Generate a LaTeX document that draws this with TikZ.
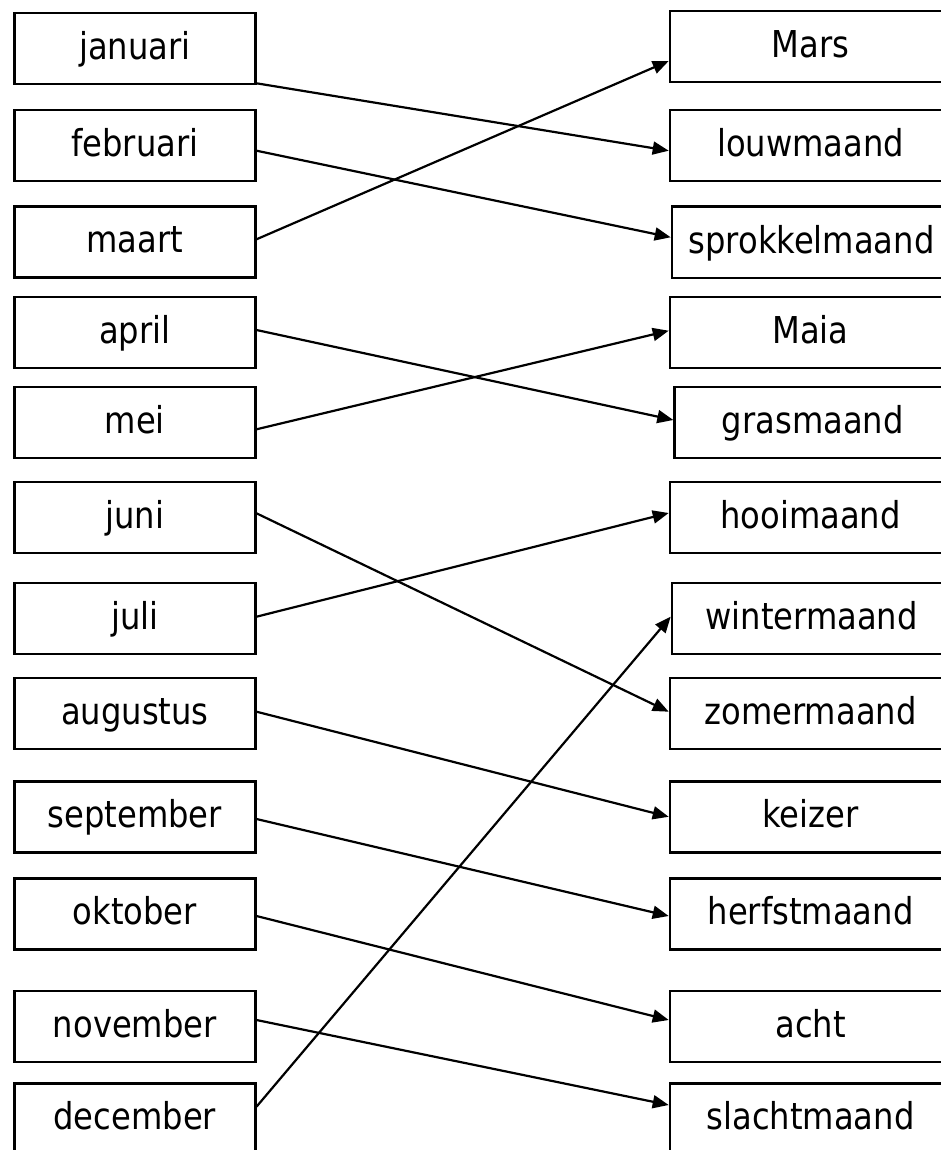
\documentclass[tikz,border=0pt]{standalone}
\usepackage{fontspec}
\setmainfont{DejaVu Sans}[FakeStretch=0.87]
\usetikzlibrary{arrows.meta,calc}
\begin{document}
\begin{tikzpicture}[x=1pt,y=-1pt,
  box/.style={draw, line width=2.4pt, inner sep=0pt, minimum height=71pt,
    text height=46.5pt, text depth=24.5pt, font=\fontsize{37}{44}\selectfont},
  lbox/.style={box, minimum width=241pt},
  rbox/.style={box, anchor=west, minimum width=#1},
  rbox/.default=281.3pt,
  link/.style={line width=2.2pt, -{Triangle[length=16pt,width=13pt]}}]
\useasboundingbox (0,0) rectangle (941,1150);
\clip (0,0) rectangle (941,1150);
% left column
\node[lbox] (jan) at (134.8,48.7) {januari};
\node[lbox] (feb) at (134.8,145.5) {februari};
\node[lbox] (maa) at (134.8,242) {maart};
\node[lbox] (apr) at (134.8,332.7) {april};
\node[lbox] (mei) at (134.8,422.2) {mei};
\node[lbox] (jun) at (134.8,517.3) {juni};
\node[lbox] (jul) at (134.8,618.3) {juli};
\node[lbox] (aug) at (134.8,713.7) {augustus};
\node[lbox] (sep) at (134.8,816.8) {september};
\node[lbox] (okt) at (134.8,913.8) {oktober};
\node[lbox] (nov) at (134.8,1026.3) {november};
\node[lbox] (dec) at (134.8,1118.8) {december};
% right column
\node[rbox] (mars) at (668.7,46.5) {Mars};
\node[rbox] (louw) at (668.7,145.8) {louwmaand};
\node[rbox=279.3pt] (spro) at (670.7,242.2) {sprokkelmaand};
\node[rbox] (maia) at (668.7,332.7) {Maia};
\node[rbox=276.7pt] (gras) at (673.3,422.2) {grasmaand};
\node[rbox] (hooi) at (668.7,517.3) {hooimaand};
\node[rbox=279.3pt] (wint) at (670.7,618.3) {wintermaand};
\node[rbox] (zome) at (668.7,713.7) {zomermaand};
\node[rbox] (keiz) at (668.7,816.8) {keizer};
\node[rbox] (herf) at (668.7,913.8) {herfstmaand};
\node[rbox] (acht) at (668.7,1026.3) {acht};
\node[rbox] (slac) at (668.7,1118.8) {slachtmaand};
% connectors
\draw[link] ($(jan.east)+(0,34.6)$) -- ($(louw.west)+(0,4.9)$);
\draw[link] ($(feb.east)+(0,5.2)$) -- ($(spro.west)+(0,-4.9)$);
\draw[link] ($(maa.east)+(0,-2.7)$) -- ($(mars.west)+(0,14.5)$);
\draw[link] ($(apr.east)+(0,-2.7)$) -- ($(gras.west)+(0,-2.2)$);
\draw[link] ($(mei.east)+(0,7.1)$) -- ($(maia.west)+(0,-2)$);
\draw[link] ($(jun.east)+(0,-4)$) -- ($(zome.west)+(0,-2)$);
\draw[link] ($(jul.east)+(0,-1.6)$) -- ($(hooi.west)+(0,-4.3)$);
\draw[link] ($(aug.east)+(0,-2)$) -- ($(keiz.west)+(0,0)$);
\draw[link] ($(sep.east)+(0,2.2)$) -- ($(herf.west)+(0,2.2)$);
\draw[link] ($(okt.east)+(0,2.2)$) -- ($(acht.west)+(0,-6.3)$);
\draw[link] ($(nov.east)+(0,-6.3)$) -- ($(slac.west)+(0,-13.8)$);
\draw[link] ($(dec.east)+(0,-12.1)$) -- ($(wint.west)+(0,-1.6)$);
\end{tikzpicture}
\end{document}
